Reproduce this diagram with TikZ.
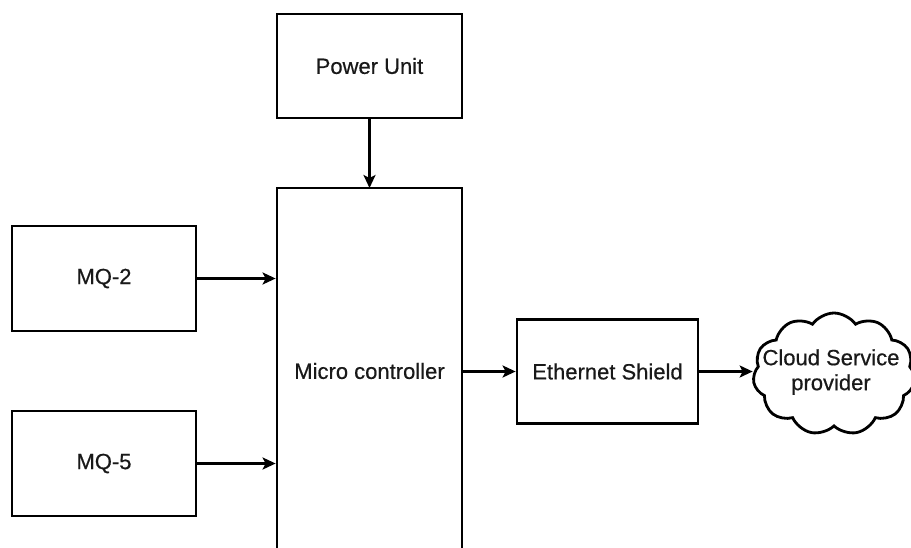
\documentclass[tikz,border=0pt]{standalone}
\usepackage{fontspec}
\setmainfont{Liberation Sans}[FakeBold=0.5]
\usetikzlibrary{arrows.meta,shapes.symbols}
\begin{document}
\begin{tikzpicture}[x=1pt,y=-1pt,
  txt/.style={font=\fontsize{22}{25}\selectfont,text=black!90},
  blk/.style={draw,line width=2.8pt,rectangle,inner sep=0pt,txt},
  conn/.style={line width=2.6pt,-{Stealth[length=13pt,width=12pt,inset=3pt]}}]
\useasboundingbox (0,0) rectangle (911,547);
\clip (0,0) rectangle (911,547);
\fill[white] (0,0) rectangle (911,547);
\node[blk,minimum width=185pt,minimum height=104pt] (pwr) at (369.5,66) {Power Unit};
\node[blk,minimum width=185pt,minimum height=380pt] (mcu) at (369.5,378) {};
\node[txt] (mcut) at (369.5,371) {Micro controller};
\node[blk,minimum width=184pt,minimum height=105pt] (mq2) at (104,278.5) {MQ-2};
\node[blk,minimum width=184pt,minimum height=105pt] (mq5) at (104,463.5) {MQ-5};
\node[blk,minimum width=181pt,minimum height=104pt] (eth) at (607.5,371.5) {Ethernet Shield};
\node[draw,line width=2.8pt,cloud,cloud puffs=11,cloud puff arc=110,aspect=1.4,
      minimum width=162pt,minimum height=122pt,inner sep=0pt] (cld) at (834,374) {};
\node[txt,align=center] (cldt) at (831,372) {Cloud Service\\provider};
\coordinate (mcutop) at (369.5,188);
\draw[conn] (pwr.south) -- (mcutop);
\draw[conn] (mq2.east) -- (mq2.east -| mcu.west);
\draw[conn] (mq5.east) -- (mq5.east -| mcu.west);
\draw[conn] (eth.west -| mcu.east) -- (eth.west);
\draw[conn] (eth.east) -- (eth.east -| cld.west);
\end{tikzpicture}
\end{document}
